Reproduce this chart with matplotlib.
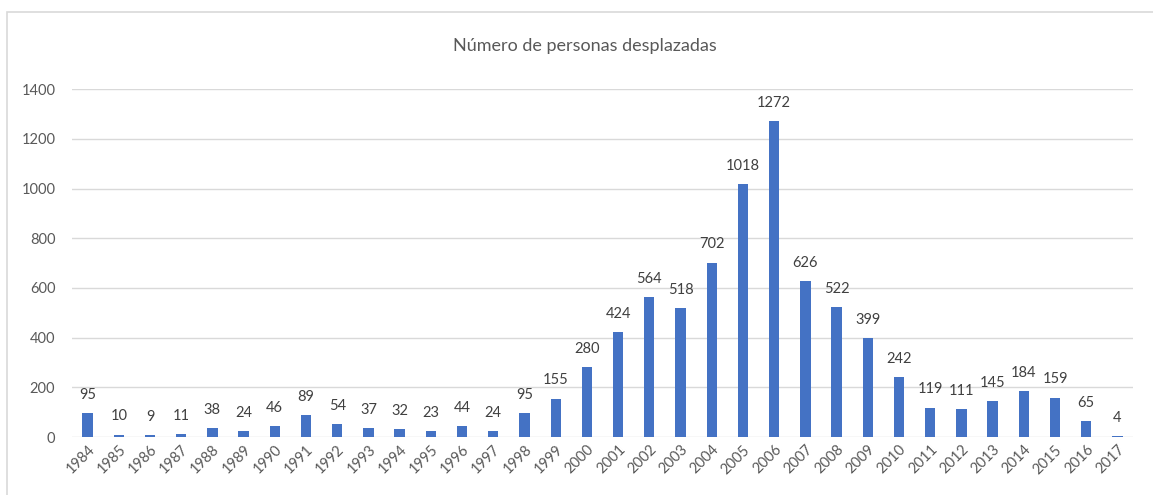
import matplotlib.pyplot as plt
from matplotlib.patches import Rectangle

# datos
anios = [str(a) for a in range(1984, 2018)]
desplazados = [95, 10, 9, 11, 38, 24, 46, 89, 54, 37, 32, 23, 44, 24, 95, 155,
               280, 424, 564, 518, 702, 1018, 1272, 626, 522, 399, 242, 119,
               111, 145, 184, 159, 65, 4]
ticks_y = [0, 200, 400, 600, 800, 1000, 1200, 1400]

plt.rcParams['font.family'] = ['Lato', 'DejaVu Sans']

fig = plt.figure(figsize=(11.53, 4.95), dpi=100)
ax = fig.add_axes([0.0624, 0.117, 0.9203, 0.703])

# marco del gráfico
fig.patches.append(Rectangle((7 / 1153, -0.01), 1.0, (495 - 12) / 495 + 0.01,
                             transform=fig.transFigure, fill=False,
                             edgecolor='#D9D9D9', linewidth=1.2))

x = range(len(anios))
barras = ax.bar(x, desplazados, width=0.33, color='#4472C4', zorder=3)
for xi, v in zip(x, desplazados):
    ax.annotate(str(v), (xi, v), xytext=(0, 8), textcoords='offset points',
                ha='center', va='bottom', fontsize=10.5, color='#404040')

ax.set_xlim(-0.5, len(anios) - 0.5)
ax.set_ylim(0, 1400)
ax.set_yticks(ticks_y)
ax.set_xticks(list(x))
ax.set_xticklabels(anios, rotation=45, ha='right', rotation_mode='anchor')
ax.tick_params(axis='both', length=0, colors='#595959', labelsize=10.5)
ax.tick_params(axis='y', pad=12)
ax.tick_params(axis='x', pad=4)
ax.grid(axis='y', color='#D9D9D9', linewidth=1, zorder=0)
for s in ax.spines.values():
    s.set_visible(False)

fig.text(0.507, 0.908, 'Número de personas desplazadas', ha='center', va='center',
         fontsize=13, color='#595959')

fig.savefig('out.png', dpi=100)
